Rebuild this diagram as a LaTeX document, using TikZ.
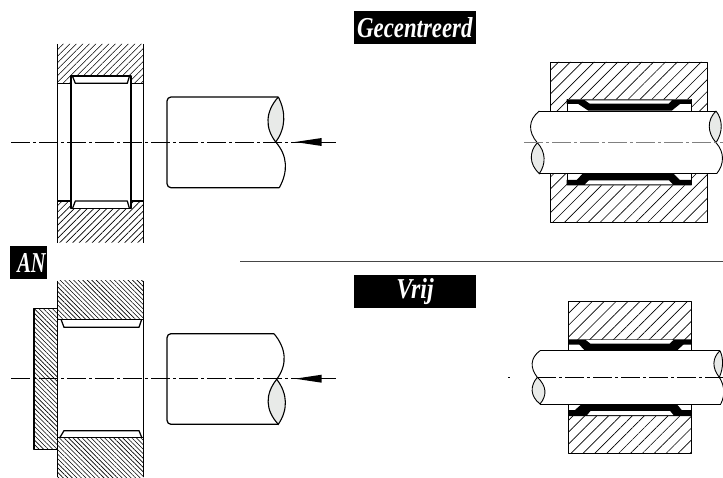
\documentclass[tikz,border=0pt]{standalone}
\usepackage{fontspec}
\setmainfont{Liberation Serif}
\usetikzlibrary{patterns.meta}
\definecolor{lensgray}{RGB}{232, 234, 232}
\definecolor{rulegray}{RGB}{70, 70, 70}

\begin{document}
\begin{tikzpicture}[
    x=1pt, y=-1pt,
    outline/.style={draw, line width=1.25pt, line join=round},
    thinline/.style={draw, line width=0.85pt, line join=round},
    centre/.style={line width=0.9pt, dash pattern=on 19pt off 3pt on 3pt off 3pt},
    hatchfine/.style={pattern={Lines[angle=45,distance=4.6pt,line width=0.6pt]}},
    hatchwide/.style={pattern={Lines[angle=45,distance=8.4pt,line width=0.65pt]}},
    hatchback/.style={pattern={Lines[angle=-45,distance=3.2pt,line width=0.6pt]}},
    lens/.style={fill=lensgray, draw, line width=1.1pt},
    tag/.style={fill=black, text=white, inner sep=0pt, font=\fontsize{24}{24}\selectfont\bfseries\itshape}
]
    \useasboundingbox (0,0) rectangle (723,478);

    % labels
    \node[tag, minimum width=122pt, minimum height=33pt, align=right] (gecentreerd) at (414.8,27.7) {\hfill\scalebox{0.95}[1.2]{Gecentreerd}};
    \node[tag, minimum width=122pt, minimum height=33pt] (vrij) at (415,292) {\scalebox{1}[1.2]{Vrij}};
    \node[tag, minimum width=37pt, minimum height=33pt] (an) at (28.5,262.5) {\hspace{6pt}\scalebox{0.85}[1.2]{AN}};
    \draw[rulegray, line width=0.9pt] (240,261.7) -- (723,261.7);

    % top left: housing
    \path[hatchfine] (57.7,44) -- (143.7,44) -- (143.7,83.3) -- (131,83.3) -- (131,76) -- (71,76) -- (71,83.3) -- (57.7,83.3) -- cycle;
    \path[hatchfine] (57.7,242.7) -- (143.7,242.7) -- (143.7,201) -- (131,201) -- (131,208.7) -- (71,208.7) -- (71,201) -- (57.7,201) -- cycle;
    \draw[outline] (57.7,44) -- (57.7,242.7);
    \draw[outline] (143.7,44) -- (143.7,242.7);
    \draw[outline] (71,76) rectangle (131,208.7);
    \draw[outline] (57.7,83.3) -- (71,83.3) (131,83.3) -- (143.7,83.3);
    \draw[outline] (57.7,201) -- (71,201) (131,201) -- (143.7,201);
    \draw[outline] (72.7,76.7) -- (75.3,83.3) -- (127.3,83.3) -- (129.3,76.7);
    \draw[outline] (72.7,208) -- (75.3,201) -- (127.3,201) -- (129.3,208);

    % top left: shaft
    \draw[outline, rounded corners=4pt] (278.3,97) -- (167,97) -- (167,187.7) -- (279.3,187.7);
    \filldraw[lens] (278.3,97) .. controls (286,112) and (286,128) .. (275.7,142) .. controls (265,128) and (265,112) .. (278.3,97);
    \draw[line width=1.1pt] (275.7,142) .. controls (288,156) and (288,172) .. (279.3,187.7);
    \draw[centre] (11,142) -- (336,142);
    \fill (295,142) -- (321.7,138) -- (321.7,146) -- cycle;

    % top right: housing
    \path[hatchwide] (550.7,62) -- (707.7,62) -- (707.7,111) -- (691.3,111) -- (691.3,99.3) -- (567,99.3) -- (567,111) -- (550.7,111) -- cycle;
    \path[hatchwide] (550.7,222.7) -- (707.7,222.7) -- (707.7,173.7) -- (691.3,173.7) -- (691.3,185.3) -- (567,185.3) -- (567,173.7) -- (550.7,173.7) -- cycle;
    \draw[thinline] (567,111) -- (567,99.3) (691.3,111) -- (691.3,99.3);
    \draw[thinline] (567,173.7) -- (567,185.3) (691.3,173.7) -- (691.3,185.3);
    \draw[thinline] (550.7,111) -- (550.7,62) -- (707.7,62) -- (707.7,111);
    \draw[thinline] (550.7,173.7) -- (550.7,222.7) -- (707.7,222.7) -- (707.7,173.7);

    % top right: seal
    \fill (566.7,99.3) -- (691.7,99.3) -- (691.7,104) -- (680,104) -- (671.7,110.7) -- (588.3,110.7) -- (578.3,104) -- (566.7,104) -- cycle;
    \fill[white] (585,100.3) -- (671.7,100.3) -- (668.3,103.7) -- (590,103.7) -- cycle;
    \fill (566.7,185.3) -- (691.7,185.3) -- (691.7,180) -- (680,180) -- (673,173.3) -- (583,173.3) -- (576.7,180) -- (566.7,180) -- cycle;
    \fill[white] (585,184.3) -- (672.7,184.3) -- (669,180.5) -- (589,180.5) -- cycle;

    % top right: shaft
    \draw[thinline] (539.3,111) -- (716,111) (539.3,173.7) -- (716.7,173.7);
    \draw[line width=0.9pt] (539.3,111) .. controls (528,120) and (528,132) .. (537.3,142.7);
    \filldraw[lens, line width=0.9pt] (537.3,142.7) .. controls (529,152) and (529,164) .. (539.3,173.7) .. controls (546,164) and (546,152) .. (537.3,142.7);
    \filldraw[lens, line width=0.9pt] (716,111) .. controls (707,120) and (707,132) .. (716,142.7) .. controls (723,132) and (723,120) .. (716,111);
    \draw[line width=0.9pt] (716,142.7) .. controls (724.5,152) and (724.5,164) .. (716.7,173.7);
    \draw[centre, gray] (524,142.7) -- (723,142.7);

    % bottom left: housing and plate
    \path[hatchback] (57.7,280.7) -- (143.7,280.7) -- (143.7,319.3) -- (57.7,319.3) -- cycle;
    \path[hatchback] (57.7,437.3) -- (143.7,437.3) -- (143.7,477.3) -- (57.7,477.3) -- cycle;
    \path[hatchback] (34,308.3) rectangle (57.7,449.3);
    \draw[outline] (57.7,280.7) -- (57.7,477.3);
    \draw[outline] (143.7,280.7) -- (143.7,477.3);
    \draw[outline] (57.7,308.3) -- (34,308.3) -- (34,449.3) -- (57.7,449.3);
    \draw[outline] (57.7,319.3) -- (143.7,319.3);
    \draw[outline] (57.7,437.3) -- (143.7,437.3);
    \draw[outline] (61,319.3) -- (64,327.3) -- (139,327.3) -- (141.7,319.3);
    \draw[outline] (60,437.3) -- (64,430.7) -- (139,430.7) -- (141.7,437.3);

    % bottom left: shaft
    \draw[outline, rounded corners=4pt] (274,333.7) -- (167,333.7) -- (167,424.3) -- (278.3,424.3);
    \draw[line width=1.1pt] (274,333.7) .. controls (286,348) and (288,364) .. (276.7,379.3);
    \filldraw[lens] (276.7,379.3) .. controls (265,394) and (265,410) .. (278.3,424.3) .. controls (288,410) and (288,394) .. (276.7,379.3);
    \draw[centre] (11,378.7) -- (336,378.7);
    \fill (295,378.7) -- (321.7,374.7) -- (321.7,382.7) -- cycle;

    % bottom right: housing
    \path[hatchwide] (568.3,301.3) rectangle (691.7,339.3);
    \path[hatchwide] (568.3,416) rectangle (691.7,453.7);
    \draw[thinline] (568.3,350.7) -- (568.3,301.3) -- (691.7,301.3) -- (691.7,350.7);
    \draw[thinline] (568.3,404) -- (568.3,453.7) -- (691.7,453.7) -- (691.7,404);

    % bottom right: seal
    \fill (568.3,339.3) -- (691.7,339.3) -- (691.7,344.7) -- (683.3,344.7) -- (676.7,350.7) -- (585,350.7) -- (579.3,344.7) -- (568.3,344.7) -- cycle;
    \fill[white] (586,340) -- (673.3,340) -- (669.3,343.7) -- (590.7,343.7) -- cycle;
    \fill (568.3,416) -- (691.7,416) -- (691.7,410) -- (681.7,410) -- (676.7,404) -- (581.7,404) -- (575,410) -- (568.3,410) -- cycle;
    \fill[white] (587.3,415) -- (673.3,415) -- (670,411) -- (590.7,411) -- cycle;

    % bottom right: shaft
    \draw[thinline] (540,350.7) -- (720,350.7) (540,404) -- (720.7,404);
    \draw[line width=0.9pt] (540,350.7) .. controls (530,358) and (530,368) .. (537.3,377.3);
    \filldraw[lens, line width=0.9pt] (537.3,377.3) .. controls (530,386) and (530,396) .. (540,404) .. controls (547,396) and (547,386) .. (537.3,377.3);
    \filldraw[lens, line width=0.9pt] (720,350.7) .. controls (712,358) and (712,368) .. (719.3,377.3) .. controls (723.5,368) and (723.5,358) .. (720,350.7);
    \draw[line width=0.9pt] (719.3,377.3) .. controls (725,386) and (725,396) .. (720.7,404);
    \draw[line width=0.8pt] (508.3,377.3) -- (510,377.3);
    \draw[centre] (537.3,377.3) -- (723,377.3);
\end{tikzpicture}
\end{document}
